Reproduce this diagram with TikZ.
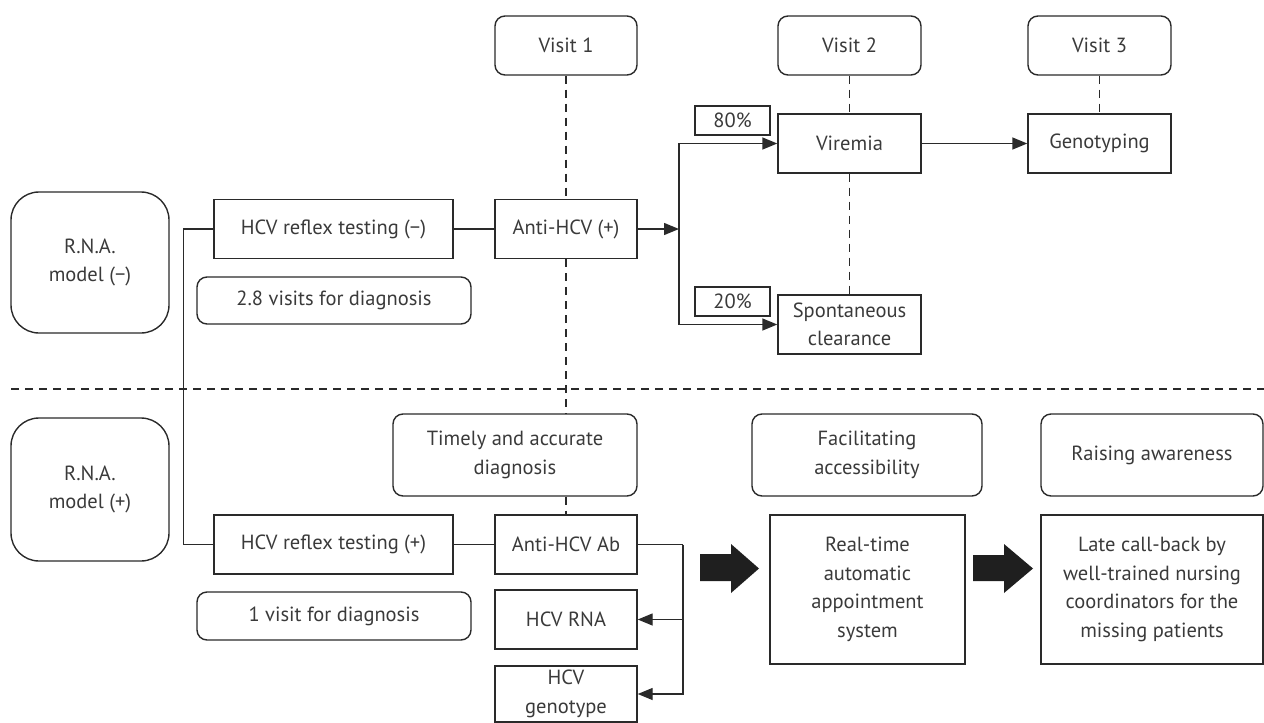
\documentclass[tikz,border=0pt]{standalone}
\usepackage{fontspec}
\setmainfont{PT Sans}
\usetikzlibrary{arrows.meta}
\definecolor{lc}{HTML}{2A2A2A}
\definecolor{tc}{HTML}{3A3A3A}
\begin{document}
\begin{tikzpicture}[x=1pt,y=-1pt,
  base/.style={draw=lc, line width=1.4pt, text=tc, inner sep=0pt, align=center, font=\fontsize{20.5}{28.5}\selectfont},
  sq/.style={base},
  rnd/.style={base, rounded corners=10pt},
  bigr/.style={base, rounded corners=28pt},
  conn/.style={draw=lc, line width=1.4pt},
  arr/.style={conn, -{Triangle[length=15pt,width=12pt]}},
  dsh/.style={draw=lc, line width=1.4pt, dash pattern=on 8pt off 6pt},
  fat/.style={fill=black!88, draw=none}]
\useasboundingbox (0,0) rectangle (1264,723);
% top row
\node[rnd, minimum width=142pt, minimum height=59pt] (v1) at (566,45.5) {Visit 1};
\node[rnd, minimum width=143pt, minimum height=59pt] (v2) at (849.5,45.5) {Visit 2};
\node[rnd, minimum width=143pt, minimum height=59pt] (v3) at (1099.5,45.5) {Visit 3};
\node[sq, minimum width=75pt, minimum height=29pt] (p80) at (732.5,120.5) {80\%};
\node[sq, minimum width=143pt, minimum height=59pt] (vir) at (849.5,143.5) {Viremia};
\node[sq, minimum width=143pt, minimum height=59pt] (gen) at (1099.5,143.5) {Genotyping};
\node[sq, minimum width=142pt, minimum height=59pt] (ahcv) at (566,229) {Anti-HCV (+)};
\node[sq, minimum width=75pt, minimum height=29pt] (p20) at (732.5,301.5) {20\%};
\node[sq, minimum width=143pt, minimum height=59pt] (spc) at (849.5,324.5) {Spontaneous\\clearance};
% left column
\node[bigr, minimum width=158pt, minimum height=141pt] (rnam) at (90,262.5) {R.N.A.\\model (−)};
\node[bigr, minimum width=158pt, minimum height=143pt] (rnap) at (90,489.5) {R.N.A.\\model (+)};
\node[sq, minimum width=239pt, minimum height=59pt] (rtm) at (333.5,229) {HCV reflex testing (−)};
\node[rnd, minimum width=274pt, minimum height=47pt] (v28) at (334,300.5) {2.8 visits for diagnosis};
\node[sq, minimum width=239pt, minimum height=59pt] (rtp) at (333.5,544.5) {HCV reflex testing (+)};
\node[rnd, minimum width=274pt, minimum height=48pt] (v1d) at (334,616) {1 visit for diagnosis};
% bottom row
\node[rnd, minimum width=244pt, minimum height=82pt] (tim) at (515,455) {Timely and accurate\\diagnosis};
\node[sq, minimum width=142pt, minimum height=59pt] (ab) at (566,544.5) {Anti-HCV Ab};
\node[sq, minimum width=142pt, minimum height=59pt] (rna) at (566,619.5) {HCV RNA};
\node[sq, minimum width=142pt, minimum height=56pt] (gt) at (566,694) {HCV\\genotype};
\node[rnd, minimum width=230pt, minimum height=82pt] (fac) at (867,455) {Facilitating\\accessibility};
\node[rnd, minimum width=222pt, minimum height=82pt] (rai) at (1152,455) {Raising awareness};
\node[sq, minimum width=195pt, minimum height=149pt] (rt) at (867.5,589.5) {Real-time\\automatic\\appointment\\system};
\node[sq, minimum width=222pt, minimum height=149pt] (lcb) at (1152,589.5) {Late call-back by\\well-trained nursing\\coordinators for the\\missing patients};
% separator
\coordinate (hl) at (11,389);
\coordinate (hr) at (1264,389);
\draw[dsh] (hl) -- (hr);
% dashed visit lines
\draw[dsh] (v1) -- (ahcv);
\draw[dsh] (ahcv.south) -- (tim.north -| ahcv.south);
\draw[dsh] (tim.south -| ab.north) -- (ab.north);
\draw[dsh] (v2) -- (vir);
\draw[dsh] (vir) -- (spc);
\draw[dsh] (v3) -- (gen);
% connectors top
\coordinate (br) at (679,229);
\draw[arr] (ahcv.east) -- (br);
\draw[arr] (br) |- (vir.west);
\draw[arr] (br) |- (spc.west);
\draw[arr] (vir) -- (gen);
% left connectors
\draw[conn] (rtm.west) -- ++(-30,0) |- (rtp.west);
\draw[conn] (rtm.east) -- (ahcv.west);
\draw[conn] (rtp.east) -- (ab.west);
% bracket
\coordinate (bx) at (683,544.5);
\draw[conn] (ab.east) -- (bx);
\draw[arr] (bx) |- (gt.east);
\draw[arr] (bx |- rna.east) -- (rna.east);
% big arrows
\fill[fat] (700,554) -- (731,554) -- (731,544) -- (759,568.5) -- (731,593) -- (731,581) -- (700,581) -- cycle;
\fill[fat] (973,555) -- (1004,555) -- (1004,544) -- (1033,568.5) -- (1004,593) -- (1004,581) -- (973,581) -- cycle;
\end{tikzpicture}
\end{document}
